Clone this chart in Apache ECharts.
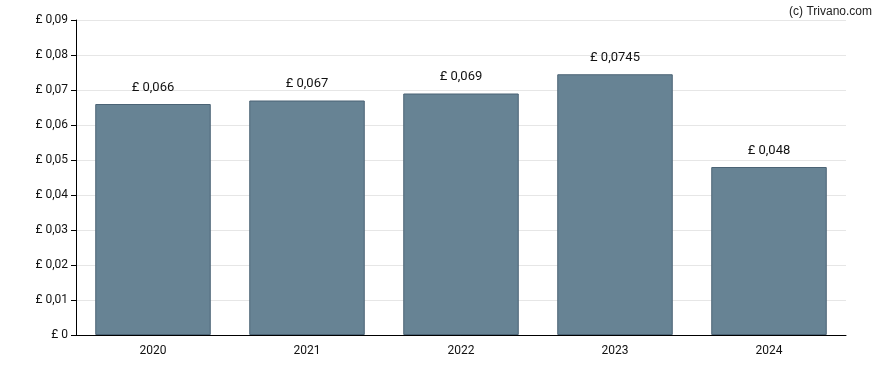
<!DOCTYPE html>
<html><head><meta charset="utf-8">
<script src="https://cdn.jsdelivr.net/npm/echarts@6/dist/echarts.min.js"></script>
<style>html,body{margin:0;padding:0;background:#fff}#c{width:888px;height:370px}</style>
</head><body><div id="c"></div>
<script>
const categories = ['2020','2021','2022','2023','2024'];
const values = [0.066, 0.067, 0.069, 0.0745, 0.048];
const labels = ['£ 0,066','£ 0,067','£ 0,069','£ 0,0745','£ 0,048'];
const chart = echarts.init(document.getElementById('c'));
chart.setOption({
  animation:false,
  textStyle:{fontFamily:'Roboto'},
  title:{text:'(c) Trivano.com',right:11,top:1,textStyle:{fontSize:12,fontWeight:'normal',color:'#222',fontFamily:'Arial, Liberation Sans'}},
  grid:{left:76,right:42,top:20,bottom:35},
  xAxis:{type:'category',data:categories,
    axisLine:{lineStyle:{color:'#000'}},
    axisTick:{alignWithLabel:true,lineStyle:{color:'#000'}},
    axisLabel:{color:'#111',fontSize:12,margin:10}},
  yAxis:{type:'value',min:0,max:0.09,interval:0.01,
    axisLine:{show:true,lineStyle:{color:'#000'}},
    axisTick:{show:true,length:5,lineStyle:{color:'#000'}},
    splitLine:{lineStyle:{color:'#e6e6e6'}},
    axisLabel:{color:'#111',fontSize:12,margin:8,
      formatter:v=>v===0?'£ 0':'£ '+v.toFixed(2).replace('.',',')}},
  series:[{type:'bar',data:values,barCategoryGap:'25%',
    itemStyle:{color:'#678394',borderColor:'#4b6375',borderWidth:1},
    label:{show:true,position:'top',distance:10,color:'#111',fontSize:13,
      formatter:p=>labels[p.dataIndex]}}]
});
</script></body></html>
